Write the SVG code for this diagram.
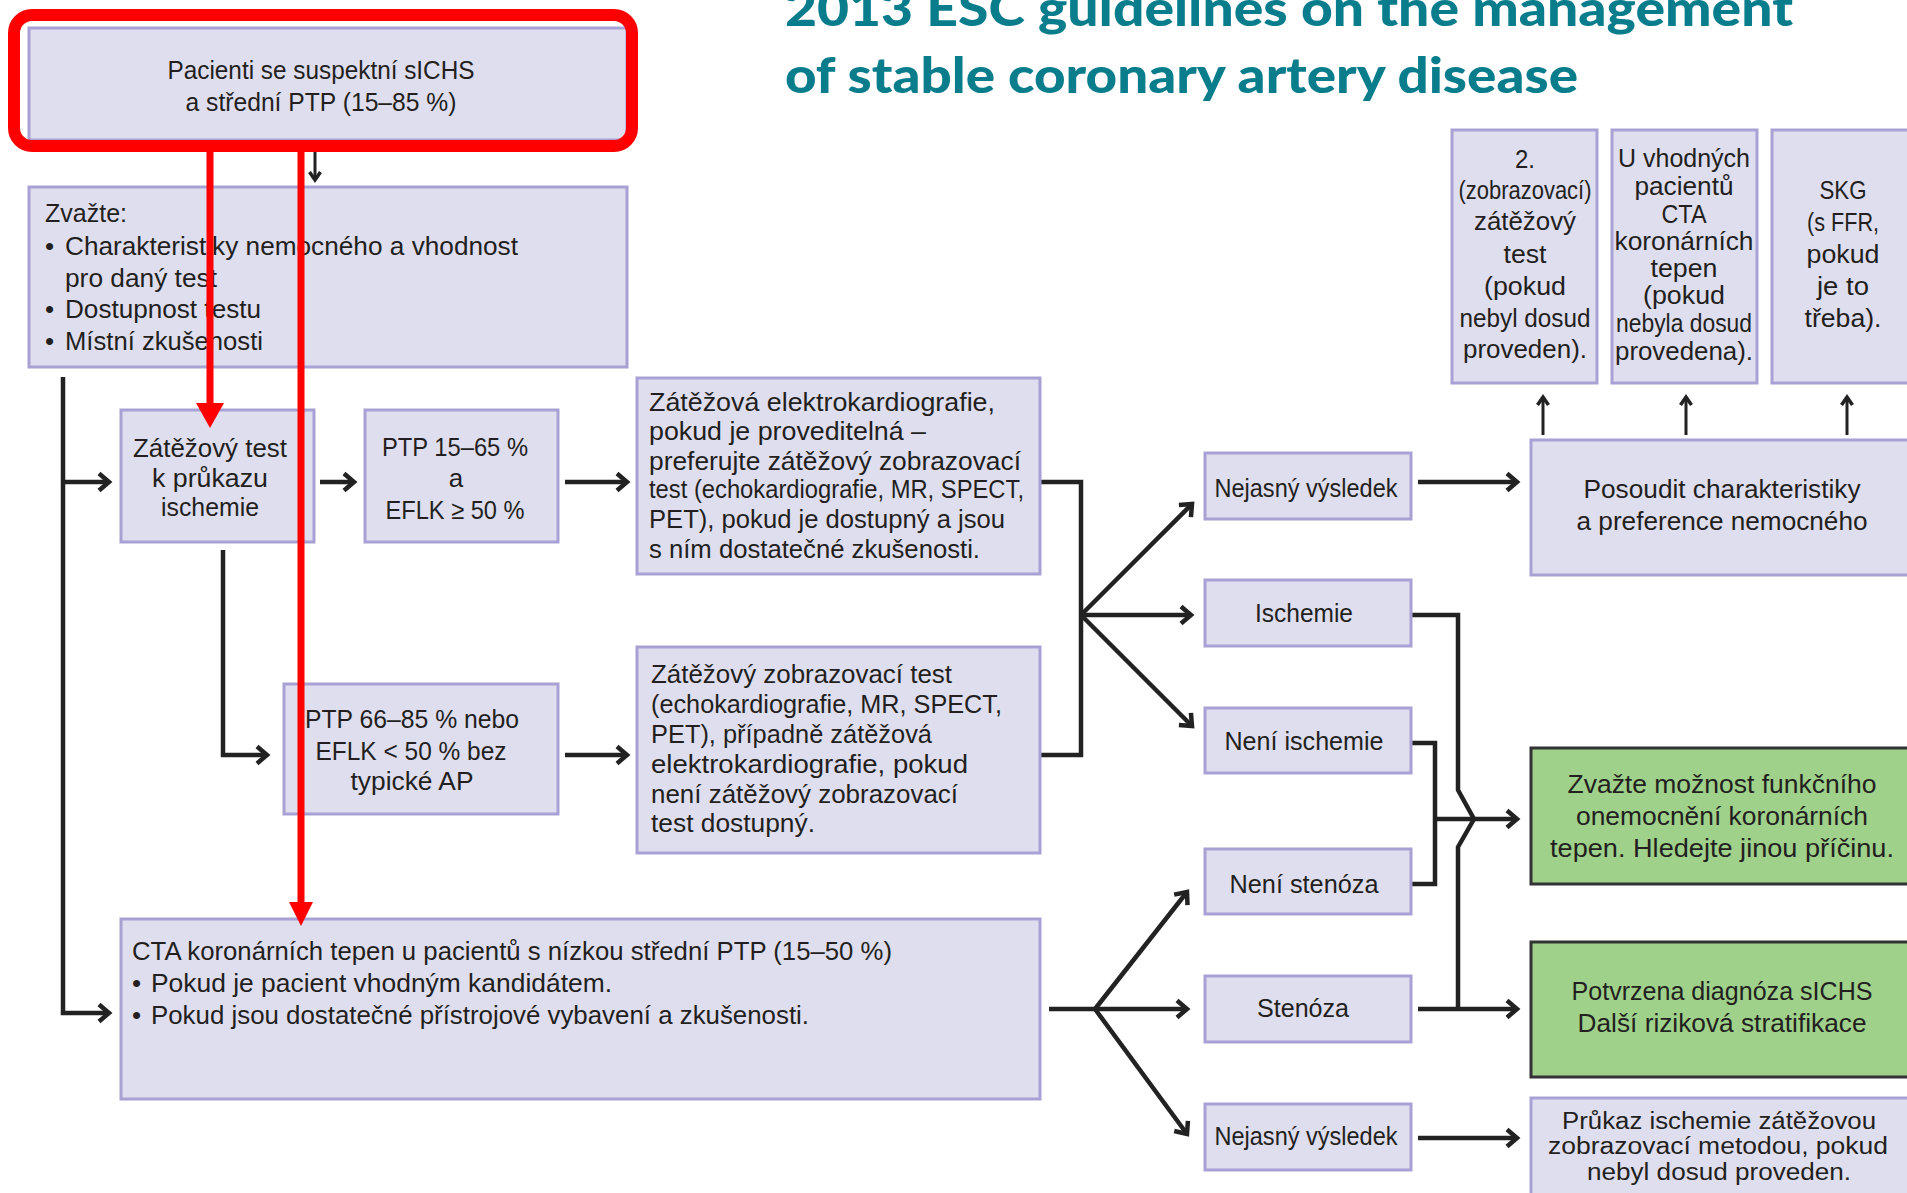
<svg xmlns="http://www.w3.org/2000/svg" width="1907" height="1193" viewBox="0 0 1907 1193">
<style>
.box{fill:#dfdeef;stroke:#a7a1d6;stroke-width:3}
.green{fill:#9fd18b;stroke:#333333;stroke-width:3}
text{font-family:"Liberation Sans",Arial,sans-serif;font-size:26px;fill:#231f20}
.c{text-anchor:middle}
.s25{font-size:25px}
.s23{font-size:23px}
.ln{fill:none;stroke:#222222;stroke-width:4.5;marker-end:url(#ah)}
.ln0{fill:none;stroke:#222222;stroke-width:4.5}
.lnS{fill:none;stroke:#222222;stroke-width:3;marker-end:url(#ahs)}
.red{fill:none;stroke:#ff0000}
.title{font-family:Lato,"Open Sans","Liberation Sans",sans-serif;font-weight:900;font-size:49px;fill:#0a7d8d}
</style>
<defs>
<marker id="ah" viewBox="-14 -11 20 22" refX="0" refY="0" markerWidth="20" markerHeight="22" markerUnits="userSpaceOnUse" orient="auto">
<path d="M-10,-8.5 L0,0 L-10,8.5" fill="none" stroke="#222222" stroke-width="4.5"/>
</marker>
<marker id="ahs" viewBox="-12 -9 16 18" refX="0" refY="0" markerWidth="16" markerHeight="18" markerUnits="userSpaceOnUse" orient="auto">
<path d="M-8,-5.5 L0,0 L-8,5.5" fill="none" stroke="#222222" stroke-width="3.5"/>
</marker>
</defs>
<rect width="1907" height="1193" fill="#ffffff"/>

<g id="title">
<text class="title" x="785" y="26" textLength="1008" lengthAdjust="spacingAndGlyphs">2013 ESC guidelines on the management</text>
<text class="title" x="785" y="93" textLength="793" lengthAdjust="spacingAndGlyphs">of stable coronary artery disease</text>
</g>

<g id="connectors">
<path class="lnS" d="M315,140 V180"/>
<path class="ln" d="M63,377 V1013 H109"/>
<path class="ln" d="M63,482 H109"/>
<path class="ln" d="M320,482 H354"/>
<path class="ln" d="M565,482 H627"/>
<path class="ln" d="M223,550 V755 H267"/>
<path class="ln" d="M565,755 H627"/>
<path class="ln0" d="M1040,482 H1081 V755 H1040"/>
<path class="ln" d="M1081,615 L1192,504"/>
<path class="ln" d="M1081,615 H1191"/>
<path class="ln" d="M1081,615 L1192,726"/>
<path class="ln" d="M1418,482 H1517"/>
<path class="lnS" d="M1543,435 V397"/>
<path class="lnS" d="M1686,435 V397"/>
<path class="lnS" d="M1847,435 V397"/>
<path class="ln0" d="M1411,615 H1458 V790 L1474,819 L1458,847 V1009"/>
<path class="ln0" d="M1411,743 H1435 V884 H1411"/>
<path class="ln" d="M1435,819 H1517"/>
<path class="ln" d="M1418,1009 H1517"/>
<path class="ln0" d="M1049,1009 H1095"/>
<path class="ln" d="M1095,1009 L1187,892"/>
<path class="ln" d="M1095,1009 H1187"/>
<path class="ln" d="M1095,1009 L1187,1134"/>
<path class="ln" d="M1418,1138 H1517"/>
</g>

<g id="n-pacienti">
<rect class="box" x="29" y="28" width="598" height="112"/>
<text class="c s25" x="321" y="79" textLength="307" lengthAdjust="spacingAndGlyphs">Pacienti se suspektní sICHS</text>
<text class="c s25" x="321" y="111" textLength="271" lengthAdjust="spacingAndGlyphs">a střední PTP (15–85 %)</text>
</g>

<g id="n-zvazte">
<rect class="box" x="29" y="187" width="598" height="180"/>
<text x="45" y="222" textLength="82" lengthAdjust="spacingAndGlyphs">Zvažte:</text>
<text x="45" y="255">•</text>
<text x="65" y="255" textLength="453" lengthAdjust="spacingAndGlyphs">Charakteristiky nemocného a vhodnost</text>
<text x="65" y="287" textLength="152" lengthAdjust="spacingAndGlyphs">pro daný test</text>
<text x="45" y="318">•</text>
<text x="65" y="318" textLength="196" lengthAdjust="spacingAndGlyphs">Dostupnost testu</text>
<text x="45" y="350">•</text>
<text x="65" y="350" textLength="198" lengthAdjust="spacingAndGlyphs">Místní zkušenosti</text>
</g>

<g id="n-zatezovy-test">
<rect class="box" x="121" y="410" width="193" height="132"/>
<text class="c" x="210" y="457" textLength="154" lengthAdjust="spacingAndGlyphs">Zátěžový test</text>
<text class="c" x="210" y="487" textLength="116" lengthAdjust="spacingAndGlyphs">k průkazu</text>
<text class="c" x="210" y="516" textLength="98" lengthAdjust="spacingAndGlyphs">ischemie</text>
</g>

<g id="n-ptp15">
<rect class="box" x="365" y="410" width="193" height="132"/>
<text class="c" x="455" y="456" textLength="146" lengthAdjust="spacingAndGlyphs">PTP 15–65 %</text>
<text class="c" x="456" y="487">a</text>
<text class="c" x="455" y="519" textLength="139" lengthAdjust="spacingAndGlyphs">EFLK ≥ 50 %</text>
</g>

<g id="n-ekg">
<rect class="box" x="637" y="378" width="403" height="196"/>
<text x="649" y="411" textLength="346" lengthAdjust="spacingAndGlyphs">Zátěžová elektrokardiografie,</text>
<text x="649" y="440" textLength="277" lengthAdjust="spacingAndGlyphs">pokud je proveditelná –</text>
<text x="649" y="470" textLength="372" lengthAdjust="spacingAndGlyphs">preferujte zátěžový zobrazovací</text>
<text x="649" y="498" textLength="375" lengthAdjust="spacingAndGlyphs">test (echokardiografie, MR, SPECT,</text>
<text x="649" y="528" textLength="356" lengthAdjust="spacingAndGlyphs">PET), pokud je dostupný a jsou</text>
<text x="649" y="558" textLength="331" lengthAdjust="spacingAndGlyphs">s ním dostatečné zkušenosti.</text>
</g>

<g id="n-ptp66">
<rect class="box" x="284" y="684" width="274" height="130"/>
<text class="c" x="412" y="728" textLength="214" lengthAdjust="spacingAndGlyphs">PTP 66–85 % nebo</text>
<text class="c" x="411" y="760" textLength="191" lengthAdjust="spacingAndGlyphs">EFLK &lt; 50 % bez</text>
<text class="c" x="412" y="790" textLength="123" lengthAdjust="spacingAndGlyphs">typické AP</text>
</g>

<g id="n-zobrazovaci">
<rect class="box" x="637" y="647" width="403" height="206"/>
<text x="651" y="683" textLength="301" lengthAdjust="spacingAndGlyphs">Zátěžový zobrazovací test</text>
<text x="651" y="713" textLength="351" lengthAdjust="spacingAndGlyphs">(echokardiografie, MR, SPECT,</text>
<text x="651" y="743" textLength="281" lengthAdjust="spacingAndGlyphs">PET), případně zátěžová</text>
<text x="651" y="773" textLength="317" lengthAdjust="spacingAndGlyphs">elektrokardiografie, pokud</text>
<text x="651" y="803" textLength="307" lengthAdjust="spacingAndGlyphs">není zátěžový zobrazovací</text>
<text x="651" y="832" textLength="164" lengthAdjust="spacingAndGlyphs">test dostupný.</text>
</g>

<g id="n-cta">
<rect class="box" x="121" y="919" width="919" height="180"/>
<text x="132" y="960" textLength="760" lengthAdjust="spacingAndGlyphs">CTA koronárních tepen u pacientů s nízkou střední PTP (15–50 %)</text>
<text x="132" y="992">•</text>
<text x="151" y="992" textLength="461" lengthAdjust="spacingAndGlyphs">Pokud je pacient vhodným kandidátem.</text>
<text x="132" y="1024">•</text>
<text x="151" y="1024" textLength="658" lengthAdjust="spacingAndGlyphs">Pokud jsou dostatečné přístrojové vybavení a zkušenosti.</text>
</g>

<g id="n-nejasny1">
<rect class="box" x="1205" y="453" width="206" height="66"/>
<text class="c s25" x="1306" y="497" textLength="183" lengthAdjust="spacingAndGlyphs">Nejasný výsledek</text>
</g>
<g id="n-ischemie">
<rect class="box" x="1205" y="580" width="206" height="66"/>
<text class="c s25" x="1304" y="622" textLength="98" lengthAdjust="spacingAndGlyphs">Ischemie</text>
</g>
<g id="n-neni-ischemie">
<rect class="box" x="1205" y="708" width="206" height="65"/>
<text class="c s25" x="1304" y="750" textLength="159" lengthAdjust="spacingAndGlyphs">Není ischemie</text>
</g>
<g id="n-neni-stenoza">
<rect class="box" x="1205" y="849" width="206" height="65"/>
<text class="c s25" x="1304" y="893" textLength="149" lengthAdjust="spacingAndGlyphs">Není stenóza</text>
</g>
<g id="n-stenoza">
<rect class="box" x="1205" y="976" width="206" height="66"/>
<text class="c s25" x="1303" y="1017" textLength="92" lengthAdjust="spacingAndGlyphs">Stenóza</text>
</g>
<g id="n-nejasny2">
<rect class="box" x="1205" y="1104" width="206" height="66"/>
<text class="c s25" x="1306" y="1145" textLength="183" lengthAdjust="spacingAndGlyphs">Nejasný výsledek</text>
</g>

<g id="n-posoudit">
<rect class="box" x="1531" y="440" width="392" height="135"/>
<text class="c" x="1722" y="498" textLength="277" lengthAdjust="spacingAndGlyphs">Posoudit charakteristiky</text>
<text class="c" x="1722" y="530" textLength="291" lengthAdjust="spacingAndGlyphs">a preference nemocného</text>
</g>

<g id="n-funkcni">
<rect class="green" x="1531" y="748" width="392" height="136"/>
<text class="c" x="1722" y="793" textLength="309" lengthAdjust="spacingAndGlyphs">Zvažte možnost funkčního</text>
<text class="c" x="1722" y="825" textLength="292" lengthAdjust="spacingAndGlyphs">onemocnění koronárních</text>
<text class="c" x="1722" y="857" textLength="344" lengthAdjust="spacingAndGlyphs">tepen. Hledejte jinou příčinu.</text>
</g>

<g id="n-potvrzena">
<rect class="green" x="1531" y="942" width="392" height="135"/>
<text class="c" x="1722" y="1000" textLength="301" lengthAdjust="spacingAndGlyphs">Potvrzena diagnóza sICHS</text>
<text class="c" x="1722" y="1032" textLength="289" lengthAdjust="spacingAndGlyphs">Další riziková stratifikace</text>
</g>

<g id="n-prukaz">
<rect class="box" x="1531" y="1098" width="392" height="110"/>
<text class="c s23" x="1719" y="1129" textLength="314" lengthAdjust="spacingAndGlyphs">Průkaz ischemie zátěžovou</text>
<text class="c s23" x="1718" y="1154" textLength="340" lengthAdjust="spacingAndGlyphs">zobrazovací metodou, pokud</text>
<text class="c s23" x="1719" y="1180" textLength="264" lengthAdjust="spacingAndGlyphs">nebyl dosud proveden.</text>
</g>

<g id="n-druhy-test">
<rect class="box" x="1452" y="130" width="145" height="253"/>
<text class="c s25" x="1525" y="168" textLength="20" lengthAdjust="spacingAndGlyphs">2.</text>
<text class="c s25" x="1525" y="199" textLength="133" lengthAdjust="spacingAndGlyphs">(zobrazovací)</text>
<text class="c s25" x="1525" y="230" textLength="102" lengthAdjust="spacingAndGlyphs">zátěžový</text>
<text class="c s25" x="1525" y="263" textLength="43" lengthAdjust="spacingAndGlyphs">test</text>
<text class="c s25" x="1525" y="295" textLength="82" lengthAdjust="spacingAndGlyphs">(pokud</text>
<text class="c s25" x="1525" y="327" textLength="131" lengthAdjust="spacingAndGlyphs">nebyl dosud</text>
<text class="c s25" x="1525" y="358" textLength="124" lengthAdjust="spacingAndGlyphs">proveden).</text>
</g>

<g id="n-cta-vhodnych">
<rect class="box" x="1612" y="130" width="145" height="253"/>
<text class="c s25" x="1684" y="167" textLength="132" lengthAdjust="spacingAndGlyphs">U vhodných</text>
<text class="c s25" x="1684" y="195" textLength="99" lengthAdjust="spacingAndGlyphs">pacientů</text>
<text class="c s25" x="1684" y="223" textLength="45" lengthAdjust="spacingAndGlyphs">CTA</text>
<text class="c s25" x="1684" y="250" textLength="139" lengthAdjust="spacingAndGlyphs">koronárních</text>
<text class="c s25" x="1684" y="277" textLength="67" lengthAdjust="spacingAndGlyphs">tepen</text>
<text class="c s25" x="1684" y="304" textLength="82" lengthAdjust="spacingAndGlyphs">(pokud</text>
<text class="c s25" x="1684" y="332" textLength="136" lengthAdjust="spacingAndGlyphs">nebyla dosud</text>
<text class="c s25" x="1684" y="360" textLength="138" lengthAdjust="spacingAndGlyphs">provedena).</text>
</g>

<g id="n-skg">
<rect class="box" x="1772" y="130" width="150" height="253"/>
<text class="c s25" x="1843" y="199" textLength="47" lengthAdjust="spacingAndGlyphs">SKG</text>
<text class="c s25" x="1843" y="231" textLength="72" lengthAdjust="spacingAndGlyphs">(s FFR,</text>
<text class="c s25" x="1843" y="263" textLength="73" lengthAdjust="spacingAndGlyphs">pokud</text>
<text class="c s25" x="1843" y="295" textLength="52" lengthAdjust="spacingAndGlyphs">je to</text>
<text class="c s25" x="1843" y="327" textLength="77" lengthAdjust="spacingAndGlyphs">třeba).</text>
</g>

<g id="annotation">
<rect class="red" x="14" y="15" width="618" height="131" rx="18" stroke-width="12"/>
<path class="red" d="M210,152 V405" stroke-width="7"/>
<polygon points="196,403 224,403 210,428" fill="#ff0000"/>
<path class="red" d="M301,140 V904" stroke-width="7"/>
<polygon points="289,902 313,902 301,926" fill="#ff0000"/>
</g>
</svg>
